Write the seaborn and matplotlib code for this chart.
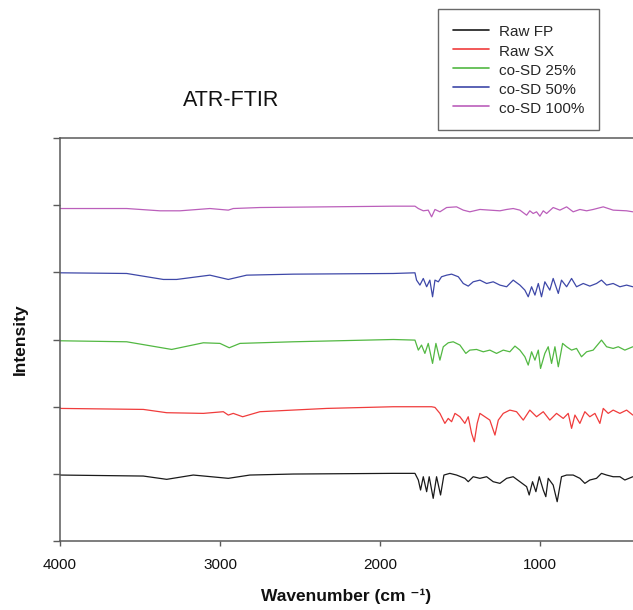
import pandas as pd
import matplotlib
matplotlib.use('Agg')
import matplotlib.pyplot as plt
import seaborn as sns

# Spectra: wavenumber (cm-1) and relative intensity
# (baseline ~0, one unit = spacing between stacked traces)
fp_wn = [4000, 3479, 3333, 3167, 2948, 2813, 2542, 1917, 1781, 1760, 1746, 1729, 1708, 1692,
         1667, 1646, 1621, 1600, 1563, 1521, 1469, 1448, 1417, 1375, 1333, 1292, 1250, 1208,
         1167, 1125, 1083, 1067, 1046, 1025, 1004, 979, 963, 948, 917, 892, 865, 833, 792,
         750, 719, 688, 646, 615, 583, 542, 500, 469, 419]
fp_int = [-0.018, -0.033, -0.082, -0.018, -0.067, -0.018, -0.003, 0.007, 0.007, -0.092, -0.241,
          -0.043, -0.266, -0.043, -0.365, -0.043, -0.315, -0.018, 0.007, -0.018, -0.067, -0.117,
          -0.043, -0.067, -0.043, -0.117, -0.142, -0.067, -0.043, -0.117, -0.191, -0.315, -0.117,
          -0.266, -0.043, -0.241, -0.34, -0.067, -0.167, -0.415, -0.043, -0.018, -0.018, -0.067,
          -0.142, -0.092, -0.067, 0.007, -0.018, -0.043, -0.043, -0.092, -0.043]

sx_wn = [4000, 3479, 3333, 3104, 2979, 2948, 2917, 2858, 2750, 2333, 1917, 1677, 1656, 1625,
         1594, 1573, 1552, 1531, 1500, 1469, 1448, 1427, 1410, 1392, 1375, 1344, 1313, 1281,
         1260, 1229, 1188, 1146, 1104, 1063, 1021, 979, 938, 896, 854, 823, 802, 781, 750,
         719, 688, 656, 625, 604, 573, 542, 500, 458, 419]
sx_int = [-0.026, -0.041, -0.09, -0.1, -0.075, -0.125, -0.1, -0.15, -0.075, -0.026, -0.001,
          -0.001, -0.011, -0.1, -0.249, -0.175, -0.224, -0.1, -0.15, -0.249, -0.15, -0.398,
          -0.522, -0.249, -0.1, -0.15, -0.2, -0.423, -0.2, -0.1, -0.051, -0.075, -0.2, -0.051,
          -0.15, -0.075, -0.2, -0.1, -0.175, -0.1, -0.323, -0.125, -0.249, -0.075, -0.15, -0.1,
          -0.249, -0.026, -0.1, -0.051, -0.1, -0.051, -0.125]

sd25_wn = [4000, 3583, 3302, 3104, 3000, 2942, 2875, 2542, 1917, 1781, 1760, 1740, 1719, 1698,
           1671, 1650, 1625, 1604, 1573, 1542, 1500, 1463, 1438, 1396, 1354, 1313, 1271, 1229,
           1188, 1156, 1125, 1094, 1073, 1052, 1031, 1010, 996, 969, 948, 927, 906, 885, 858,
           833, 802, 771, 740, 708, 667, 615, 583, 542, 510, 469, 419]
sd25_int = [-0.019, -0.034, -0.148, -0.049, -0.058, -0.123, -0.058, -0.034, 0.0, -0.009, -0.158,
            -0.083, -0.207, -0.058, -0.356, -0.058, -0.307, -0.108, -0.049, -0.034, -0.083,
            -0.207, -0.158, -0.148, -0.183, -0.158, -0.207, -0.158, -0.183, -0.098, -0.158,
            -0.257, -0.381, -0.183, -0.307, -0.158, -0.431, -0.207, -0.108, -0.356, -0.108,
            -0.406, -0.058, -0.108, -0.158, -0.133, -0.257, -0.183, -0.158, -0.009, -0.108,
            -0.133, -0.108, -0.158, -0.108]

sd50_wn = [4000, 3583, 3354, 3271, 3063, 2948, 2833, 2542, 1917, 1781, 1771, 1750, 1729, 1708,
           1688, 1671, 1656, 1635, 1615, 1583, 1552, 1510, 1479, 1448, 1417, 1375, 1333, 1292,
           1250, 1208, 1167, 1125, 1094, 1073, 1052, 1031, 1010, 990, 969, 938, 917, 885, 865,
           833, 802, 771, 729, 688, 646, 615, 583, 542, 500, 458, 419]
sd50_int = [-0.007, -0.017, -0.106, -0.106, -0.042, -0.106, -0.042, -0.027, -0.017, -0.007,
            -0.116, -0.19, -0.091, -0.215, -0.116, -0.364, -0.116, -0.141, -0.066, -0.042,
            -0.027, -0.066, -0.166, -0.205, -0.141, -0.116, -0.166, -0.141, -0.19, -0.215,
            -0.116, -0.19, -0.265, -0.364, -0.215, -0.339, -0.166, -0.364, -0.141, -0.265,
            -0.091, -0.314, -0.116, -0.215, -0.091, -0.215, -0.166, -0.205, -0.166, -0.116,
            -0.19, -0.166, -0.215, -0.19, -0.215]

sd100_wn = [4000, 3583, 3375, 3250, 3063, 2948, 2917, 2750, 2333, 1917, 1781, 1760, 1729, 1698,
            1677, 1656, 1625, 1583, 1521, 1479, 1438, 1375, 1313, 1250, 1208, 1167, 1125, 1083,
            1063, 1042, 1021, 1000, 979, 958, 917, 875, 833, 792, 750, 708, 667, 604, 542,
            458, 419]
sd100_int = [-0.05, -0.05, -0.084, -0.084, -0.05, -0.074, -0.05, -0.035, -0.025, -0.015, -0.015,
             -0.05, -0.084, -0.074, -0.174, -0.064, -0.099, -0.035, -0.025, -0.074, -0.099,
             -0.064, -0.074, -0.084, -0.064, -0.05, -0.074, -0.149, -0.084, -0.124, -0.099,
             -0.164, -0.084, -0.124, -0.035, -0.074, -0.025, -0.099, -0.064, -0.084, -0.064,
             -0.025, -0.074, -0.084, -0.099]

labels = ['Raw FP', 'Raw SX', 'co-SD 25%', 'co-SD 50%', 'co-SD 100%']
colors = ['#1a1a1a', '#f03c3c', '#52b842', '#3e48a8', '#bb5fbb']
offsets = [1, 2, 3, 4, 5]

spectra = [(fp_wn, fp_int), (sx_wn, sx_int), (sd25_wn, sd25_int),
           (sd50_wn, sd50_int), (sd100_wn, sd100_int)]

frames = []
for (wn, inten), name, off in zip(spectra, labels, offsets):
    frames.append(pd.DataFrame({'Wavenumber': wn,
                                'Intensity': [v + off for v in inten],
                                'Sample': name}))
data = pd.concat(frames, ignore_index=True)

sns.set_style('ticks')
plt.rcParams['font.family'] = ['Liberation Sans', 'DejaVu Sans']

fig = plt.figure(figsize=(6.33, 6.10), dpi=100)
ax = fig.add_axes([60 / 633, 1 - 541 / 610, 573 / 633, 403 / 610])

sns.lineplot(data=data, x='Wavenumber', y='Intensity', hue='Sample', hue_order=labels,
             palette=colors, linewidth=0.9, sort=False, estimator=None, ax=ax, legend=False)

ax.set_xlim(4000, 418)
ax.set_ylim(0, 6)
ax.set_xticks([4000, 3000, 2000, 1000])
ax.set_yticks([0, 1, 2, 3, 4, 5, 6])
ax.set_yticklabels([])

spine_color = '#5a5a5a'
for side in ['left', 'bottom', 'top']:
    ax.spines[side].set_color(spine_color)
    ax.spines[side].set_linewidth(1.1)
ax.spines['right'].set_visible(False)
ax.tick_params(axis='x', direction='out', length=3.8, width=1.0, color=spine_color,
               labelsize=11, pad=8.5, labelcolor='#111111')
ax.tick_params(axis='y', direction='out', length=4.8, width=1.0, color=spine_color)

ax.set_xlabel('Wavenumber (cm \u207b\u00b9)', fontsize=12.5, fontweight='bold',
              color='#111111')
ax.xaxis.set_label_coords(0.5, -0.117)
ax.set_ylabel('Intensity', fontsize=12.5, fontweight='bold', color='#111111')
ax.yaxis.set_label_coords(-0.056, 0.5)

fig.text(231 / 633, 1 - 100 / 610, 'ATR-FTIR', fontsize=15.5, ha='center', va='center',
         color='#111111')

handles = [plt.Line2D([], [], color=c, linewidth=1.2) for c in colors]
leg = fig.legend(handles, labels, loc='upper left', bbox_to_anchor=(438 / 633, 1 - 9 / 610),
                 bbox_transform=fig.transFigure, borderaxespad=0, fontsize=11,
                 frameon=True, fancybox=False, handlelength=2.4, handletextpad=0.65,
                 handleheight=1.2, labelspacing=0.2, borderpad=0.95)
leg.get_frame().set_edgecolor('#444444')
leg.get_frame().set_linewidth(1.0)

fig.savefig('out.png', dpi=100)
